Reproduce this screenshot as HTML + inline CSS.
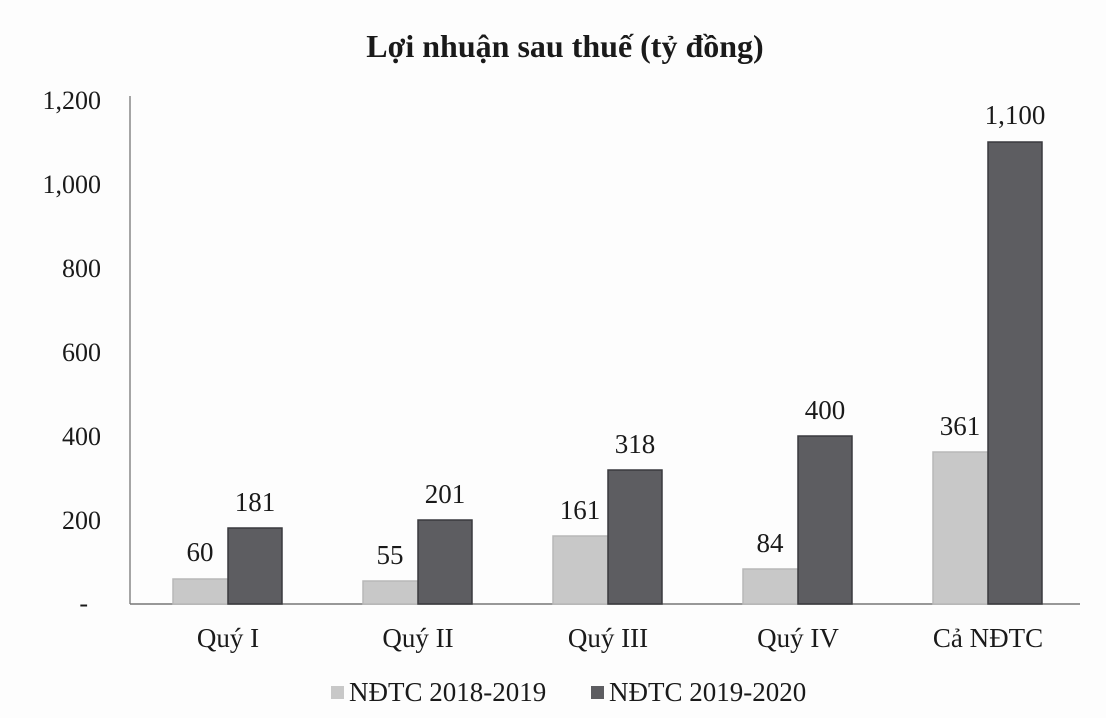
<!DOCTYPE html>
<html><head><meta charset="utf-8"><style>
html,body{margin:0;padding:0;background:#fff;}
svg{display:block;}
text{font-family:"Liberation Serif",serif;fill:#1a1a1a;}
</style></head><body>
<svg width="1106" height="718" viewBox="0 0 1106 718">
<rect width="1106" height="718" fill="#fdfdfd"/>
<text x="565" y="57" font-size="32" font-weight="bold" text-anchor="middle">Lợi nhuận sau thuế (tỷ đồng)</text>
<line x1="130" y1="96" x2="130" y2="604" stroke="#888" stroke-width="1.5"/>
<line x1="130" y1="604" x2="1080" y2="604" stroke="#777" stroke-width="1.5"/>
<g font-size="26" text-anchor="end">
<text x="101" y="109">1,200</text>
<text x="101" y="193">1,000</text>
<text x="101" y="277">800</text>
<text x="101" y="361">600</text>
<text x="101" y="445">400</text>
<text x="101" y="529">200</text>
<text x="88" y="612">-</text>
</g>
<g stroke-width="1.5">
<rect x="173" y="579" width="55" height="25" fill="#c8c8c8" stroke="#b8b8b8"/>
<rect x="228" y="528" width="54" height="76" fill="#5d5d61" stroke="#3a3a3e"/>
<rect x="363" y="581" width="55" height="23" fill="#c8c8c8" stroke="#b8b8b8"/>
<rect x="418" y="520" width="54" height="84" fill="#5d5d61" stroke="#3a3a3e"/>
<rect x="553" y="536" width="55" height="68" fill="#c8c8c8" stroke="#b8b8b8"/>
<rect x="608" y="470" width="54" height="134" fill="#5d5d61" stroke="#3a3a3e"/>
<rect x="743" y="569" width="55" height="35" fill="#c8c8c8" stroke="#b8b8b8"/>
<rect x="798" y="436" width="54" height="168" fill="#5d5d61" stroke="#3a3a3e"/>
<rect x="933" y="452" width="55" height="152" fill="#c8c8c8" stroke="#b8b8b8"/>
<rect x="988" y="142" width="54" height="462" fill="#5d5d61" stroke="#3a3a3e"/>
</g>
<g font-size="27" text-anchor="middle">
<text x="200" y="561">60</text><text x="255" y="511">181</text>
<text x="390" y="564">55</text><text x="445" y="503">201</text>
<text x="580" y="519">161</text><text x="635" y="453">318</text>
<text x="770" y="552">84</text><text x="825" y="419">400</text>
<text x="960" y="435">361</text><text x="1015" y="124">1,100</text>
</g>
<g font-size="27" text-anchor="middle">
<text x="228" y="647">Quý I</text>
<text x="418" y="647">Quý II</text>
<text x="608" y="647">Quý III</text>
<text x="798" y="647">Quý IV</text>
<text x="988" y="647">Cả NĐTC</text>
</g>
<rect x="331" y="686" width="13" height="13" fill="#c8c8c8"/>
<text x="349" y="701" font-size="27">NĐTC 2018-2019</text>
<rect x="591" y="686" width="13" height="13" fill="#5d5d61"/>
<text x="609" y="701" font-size="27">NĐTC 2019-2020</text>
</svg>
</body></html>
